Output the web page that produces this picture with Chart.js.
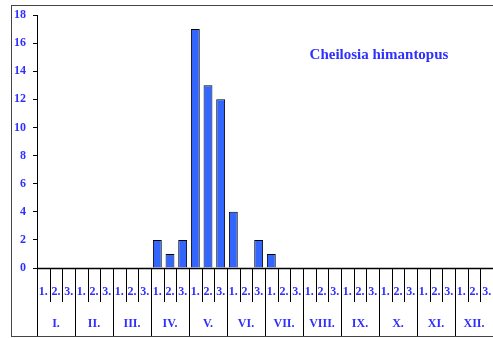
<!DOCTYPE html>
<html><head><meta charset="utf-8">
<script src="https://cdn.jsdelivr.net/npm/chart.js@4"></script>
<style>html,body{margin:0;padding:0;background:#fff}#wrap{width:493px;height:338px;position:relative}</style>
</head><body><div id="wrap"><canvas id="c" width="493" height="338"></canvas></div>
<script>
const months = ['I.','II.','III.','IV.','V.','VI.','VII.','VIII.','IX.','X.','XI.','XII.'];
const decades = ['1.','2.','3.'];
const categories = months.flatMap(m => decades.map(d => m + d));
const values = [0,0,0, 0,0,0, 0,0,0, 2,1,2, 17,13,12, 4,0,2, 1,0,0, 0,0,0, 0,0,0, 0,0,0, 0,0,0, 0,0,0];
const yTicks = {min:0, max:18, step:2};
const titleText = 'Cheilosia himantopus';

const blue = '#2f2fff';
const fontFam = '"Liberation Serif", "DejaVu Serif", serif';

const axisPlugin = {
  id:'axisDeco',
  afterDraw(chart){
    const ctx = chart.ctx, x = chart.scales.x, ca = chart.chartArea;
    const p0 = x.getPixelForValue(0), p1 = x.getPixelForValue(1);
    const half = (p1 - p0)/2;
    const y0 = ca.bottom;
    ctx.save();
    ctx.strokeStyle = '#000';
    ctx.lineWidth = 1;
    for (let i = 0; i <= categories.length; i++){
      const px = Math.round((i < categories.length ? x.getPixelForValue(i) - half : x.getPixelForValue(i-1) + half)) + 0.5;
      const isMonth = i % 3 === 0;
      ctx.beginPath();
      ctx.moveTo(px, y0);
      ctx.lineTo(px, isMonth ? 337 : 302);
      ctx.stroke();
    }
    ctx.lineWidth = 1.5;
    ctx.beginPath(); ctx.moveTo(ca.left, y0 + 0.5); ctx.lineTo(ca.right + 2, y0 + 0.5); ctx.stroke();
    ctx.fillStyle = blue;
    ctx.textAlign = 'center';
    ctx.textBaseline = 'middle';
    ctx.font = 'bold 12px ' + fontFam;
    categories.forEach((c, i) => {
      ctx.fillText(decades[i % 3], x.getPixelForValue(i), 291.5);
    });
    months.forEach((m, k) => {
      const cx = x.getPixelForValue(k*3 + 1);
      ctx.fillText(m, cx, 323.5);
    });
    ctx.font = 'bold 15px ' + fontFam;
    ctx.fillText(titleText, 379, 55);
    ctx.strokeStyle = '#444';
    ctx.lineWidth = 1;
    ctx.strokeRect(11.5, 5.5, 500, 331);
    ctx.restore();
  }
};

new Chart(document.getElementById('c'), {
  type:'bar',
  data:{ labels: categories, datasets:[{ data: values, backgroundColor:'#3366ff', borderColor:'#000', borderWidth:1, categoryPercentage:1, barPercentage:0.7 }]},
  options:{
    responsive:false, animation:false,
    layout:{ padding:{ left:0, right:0, top:15, bottom:70 } },
    plugins:{ legend:{display:false}, tooltip:{enabled:false}, title:{display:false} },
    scales:{
      x:{ type:'category', display:false, offset:true },
      y:{ min:yTicks.min, max:yTicks.max,
          afterFit(s){ s.width = 37; },
          ticks:{ stepSize:yTicks.step, color:blue, padding:7, font:{ family:fontFam, weight:'bold', size:12 } },
          grid:{ drawOnChartArea:false, tickLength:4, color:'#000' },
          border:{ color:'#000', width:1 } }
    }
  },
  plugins:[axisPlugin]
});
</script></body></html>
